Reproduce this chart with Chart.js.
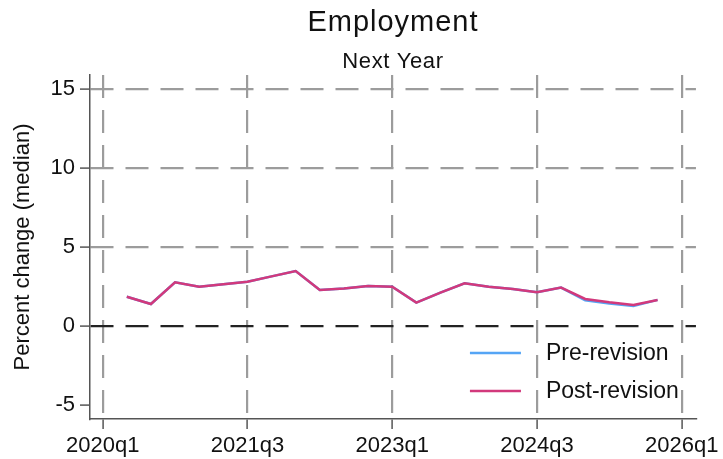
<!DOCTYPE html>
<html>
<head>
<meta charset="utf-8">
<script src="https://cdn.jsdelivr.net/npm/chart.js@4.4.1/dist/chart.umd.min.js"></script>
<style>
  html, body { margin: 0; padding: 0; background: #fff; }
  #wrap { width: 723px; height: 459px; }
</style>
</head>
<body>
<div id="wrap"><canvas id="chart" width="723" height="459"></canvas></div>
<script>
// Survey quarters (x) and median percent change
const quarters = ['2020q2', '2020q3', '2020q4', '2021q1', '2021q2', '2021q3', '2021q4', '2022q1',
    '2022q2', '2022q3', '2022q4', '2023q1', '2023q2', '2023q3', '2023q4', '2024q1',
    '2024q2', '2024q3', '2024q4', '2025q1', '2025q2', '2025q3', '2025q4'];
const preRevision = [1.85, 1.39, 2.76, 2.49, 2.64, 2.80, 3.14, 3.48, 2.28, 2.38, 2.53, 2.49,
    1.48, 2.11, 2.70, 2.49, 2.34, 2.13, 2.43, 1.62, 1.42, 1.27, 1.65];
const postRevision = [1.85, 1.39, 2.76, 2.49, 2.64, 2.80, 3.14, 3.48, 2.28, 2.38, 2.53, 2.49,
    1.48, 2.11, 2.70, 2.49, 2.34, 2.13, 2.43, 1.71, 1.50, 1.33, 1.65];
const xTickLabels = ['2020q1', '2021q3', '2023q1', '2024q3', '2026q1'];
const yTicks = [-5, 0, 5, 10, 15];

const FONT = 'Arial, "Liberation Sans", sans-serif';
const BLUE = '#55a5f5';
const PINK = '#d2397c';

// quarter label -> number of quarters since 2020q1
function qIndex(label) {
    const year = parseInt(label.slice(0, 4), 10);
    const q = parseInt(label.slice(5), 10);
    return (year - 2020) * 4 + (q - 1);
}
function qLabel(idx) {
    const year = 2020 + Math.floor(idx / 4);
    return year + 'q' + (idx % 4 + 1);
}

const toPoints = vals => quarters.map((q, i) => ({ x: qIndex(q), y: vals[i] }));

// titles centred over the plot area
const titlePlugin = {
    id: 'titles',
    afterDraw(chart) {
        const { ctx, chartArea } = chart;
        const cx = (chartArea.left + chartArea.right) / 2;
        ctx.save();
        ctx.fillStyle = '#111';
        ctx.textAlign = 'center';
        ctx.textBaseline = 'alphabetic';
        ctx.font = '29px ' + FONT;
        ctx.letterSpacing = '1px';
        ctx.fillText('Employment', cx, 31);
        ctx.font = '22px ' + FONT;
        ctx.letterSpacing = '0.6px';
        ctx.fillText('Next Year', cx, 68);
        ctx.restore();
    }
};

// legend inside the plot, lower right
const legendPlugin = {
    id: 'insideLegend',
    afterDatasetsDraw(chart) {
        const { ctx, chartArea } = chart;
        const x0 = chartArea.right - 226;
        const rows = [chartArea.bottom - 66, chartArea.bottom - 28];
        ctx.save();
        ctx.font = '23px ' + FONT;
        ctx.textBaseline = 'middle';
        ctx.textAlign = 'left';
        chart.data.datasets.forEach((ds, i) => {
            const y = rows[i];
            ctx.strokeStyle = ds.borderColor;
            ctx.lineWidth = 2.5;
            ctx.beginPath();
            ctx.moveTo(x0, y);
            ctx.lineTo(x0 + 51, y);
            ctx.stroke();
            ctx.fillStyle = '#111';
            ctx.fillText(ds.label, x0 + 76, y + 1);
        });
        ctx.restore();
    }
};

const ctx = document.getElementById('chart').getContext('2d');
new Chart(ctx, {
    type: 'line',
    data: {
        datasets: [
            {
                label: 'Pre-revision',
                data: toPoints(preRevision),
                borderColor: BLUE,
                borderWidth: 2.5,
                pointRadius: 0,
                tension: 0,
                order: 1
            },
            {
                label: 'Post-revision',
                data: toPoints(postRevision),
                borderColor: PINK,
                borderWidth: 2.5,
                pointRadius: 0,
                tension: 0,
                order: 0
            }
        ]
    },
    options: {
        responsive: false,
        animation: false,
        layout: { padding: { top: 75, right: 25, bottom: 0, left: 0 } },
        plugins: {
            legend: { display: false },
            title: { display: false },
            tooltip: { enabled: false }
        },
        scales: {
            x: {
                type: 'linear',
                min: -0.525,
                max: 24.59,
                afterFit: scale => { scale.height = 40; },
                afterBuildTicks: scale => {
                    scale.ticks = xTickLabels.map(l => ({ value: qIndex(l) }));
                },
                ticks: {
                    callback: v => qLabel(v),
                    font: { family: FONT, size: 22 },
                    color: '#111',
                    padding: 4,
                    maxRotation: 0,
                    autoSkip: false
                },
                grid: {
                    color: '#9c9c9c',
                    lineWidth: 2.2,
                    tickLength: 10,
                    tickColor: '#555',
                    tickWidth: 1.5
                },
                border: { display: true, color: '#555', width: 1.5, dash: [23, 12] }
            },
            y: {
                min: -5.89,
                max: 15.89,
                afterFit: scale => { scale.width = 90; },
                afterBuildTicks: scale => {
                    scale.ticks = yTicks.map(v => ({ value: v }));
                },
                ticks: {
                    font: { family: FONT, size: 22 },
                    color: '#111',
                    padding: 5
                },
                grid: {
                    color: c => c.tick && c.tick.value === 0 ? '#222' : (c.tick && c.tick.value < 0 ? 'rgba(0,0,0,0)' : '#9c9c9c'),
                    lineWidth: 2.2,
                    tickLength: 10,
                    tickColor: '#555',
                    tickWidth: 1.5
                },
                border: { display: true, color: '#555', width: 1.5, dash: [23, 12] },
                title: {
                    display: true,
                    text: 'Percent change (median)',
                    font: { family: FONT, size: 22 },
                    color: '#111',
                    padding: { top: 10, bottom: 0 }
                }
            }
        }
    },
    plugins: [titlePlugin, legendPlugin]
});
</script>
</body>
</html>
